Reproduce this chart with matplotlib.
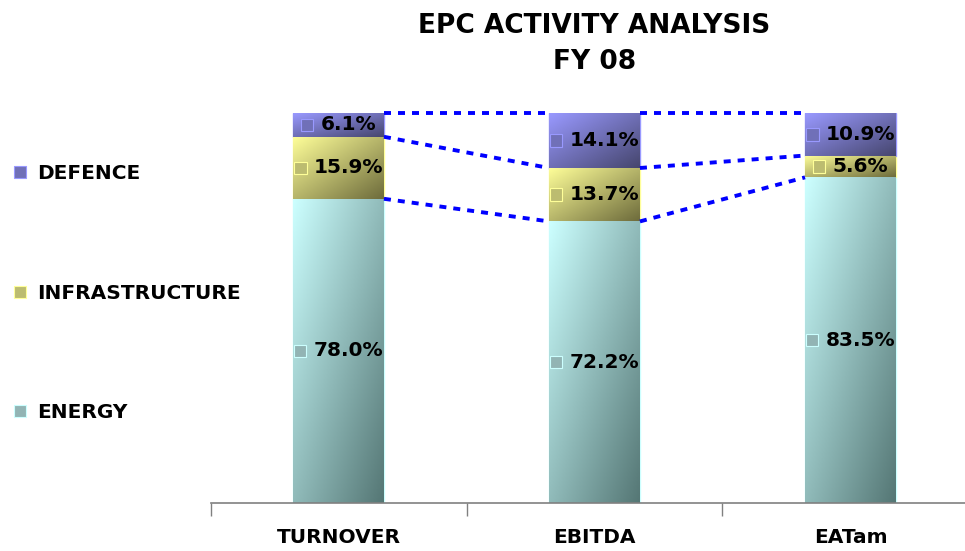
import numpy as np
import matplotlib
matplotlib.use("Agg")
import matplotlib.pyplot as plt
from matplotlib.colors import to_rgb
from matplotlib.lines import Line2D
from matplotlib.offsetbox import AnnotationBbox, DrawingArea, HPacker, TextArea
from matplotlib.patches import Rectangle

# share of each activity (%), FY 08
categories = ['TURNOVER', 'EBITDA', 'EATam']
series = ['ENERGY', 'INFRASTRUCTURE', 'DEFENCE']
energy = [78.0, 72.2, 83.5]
infrastructure = [15.9, 13.7, 5.6]
defence = [6.1, 14.1, 10.9]

# light (top-left) / dark (bottom-right) gradient ends per series
light = {'ENERGY': '#ccffff', 'INFRASTRUCTURE': '#ffff99', 'DEFENCE': '#9999ff'}
dark = {'ENERGY': '#557775', 'INFRASTRUCTURE': '#6e6c3c', 'DEFENCE': '#46466e'}
mid = {'ENERGY': '#92b4b4', 'INFRASTRUCTURE': '#bcbc70', 'DEFENCE': '#7070b8'}

fig = plt.figure(figsize=(9.65, 5.51), dpi=100)
ax = fig.add_axes([210.5 / 965, 48 / 551, 768 / 965, 390 / 551])
ax.set_xlim(-0.5, 2.5)
ax.set_ylim(0, 100)

x = np.arange(len(categories))
width = 0.355
values = [energy, infrastructure, defence]


def gradient(c1, c2, n=64):
    u = np.linspace(0, 1, n)
    g = (u[None, :] + u[:, None]) / 2  # top-left -> bottom-right
    a, b = np.array(to_rgb(c1)), np.array(to_rgb(c2))
    return a + (b - a) * g[..., None]


bottom = np.zeros(len(categories))
tops = []
for name, vals in zip(series, values):
    bars = ax.bar(x, vals, width, bottom=bottom, color=light[name],
                  edgecolor=light[name], linewidth=1, zorder=2)
    img = gradient(light[name], dark[name])
    for b in bars:
        bx, by = b.get_x(), b.get_y()
        im = ax.imshow(img, extent=[bx, bx + b.get_width(), by, by + b.get_height()],
                       aspect='auto', origin='upper', zorder=2.5)
        im.set_clip_path(b)
    # data labels with small series key
    for xi, v, bt in zip(x, vals, bottom):
        da = DrawingArea(9, 9, 0, 0)
        da.add_artist(Rectangle((0, 0), 9, 9, facecolor=mid[name], edgecolor=light[name], lw=0.8))
        ta = TextArea('%.1f%%' % v, textprops=dict(fontsize=14.5, fontweight='bold', color='black'))
        box = HPacker(children=[da, ta], align='center', pad=0, sep=5)
        ab = AnnotationBbox(box, (xi, bt + v / 2), frameon=False, box_alignment=(0.5, 0.5), zorder=4)
        ax.add_artist(ab)
    bottom = bottom + np.array(vals)
    tops.append(bottom.copy())

# series lines between bars
levels = [np.array(energy), tops[1], tops[2]]
for lev in levels:
    for i in range(len(categories) - 1):
        ax.plot([x[i] + width / 2, x[i + 1] - width / 2], [lev[i], lev[i + 1]],
                color='#0000ff', lw=2.8, ls=(0, (1.8, 1.8)), zorder=3,
                solid_capstyle='butt', clip_on=False)

# axes
for s in ['top', 'right', 'left']:
    ax.spines[s].set_visible(False)
ax.spines['bottom'].set_color('#808080')
ax.spines['bottom'].set_linewidth(1.2)
ax.set_yticks([])
ax.set_xticks([-0.5, 0.5, 1.5, 2.5])
ax.set_xticklabels([])
ax.tick_params(axis='x', direction='out', length=9, color='#808080', width=1)
for xi, c in zip(x, categories):
    ax.text(xi, -6.5, c, ha='center', va='top', fontsize=14.5, fontweight='bold')

ax.text(0.5, 1.177, 'EPC ACTIVITY ANALYSIS\nFY 08', transform=ax.transAxes,
        ha='center', va='center', fontsize=19, fontweight='bold', linespacing=1.5)

# legend, DEFENCE on top
handles = [Line2D([], [], ls='none', marker='s', markersize=9,
                  markerfacecolor=mid[n], markeredgecolor=light[n], markeredgewidth=0.8)
           for n in series[::-1]]
fig.legend(handles, series[::-1], loc='center left', bbox_to_anchor=(-0.006, 0.468),
           frameon=False, prop=dict(size=14.5, weight='bold'), labelspacing=5.0,
           handlelength=0.8, handletextpad=0.45)

fig.savefig('out.png', dpi=100)
